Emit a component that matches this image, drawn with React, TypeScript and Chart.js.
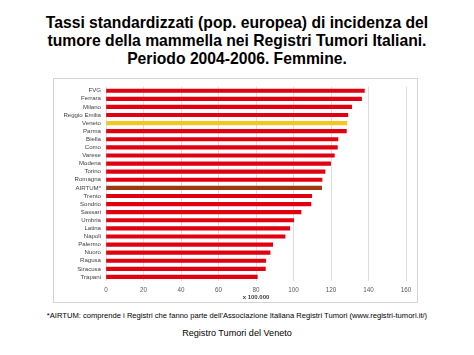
import React, { useEffect, useRef } from "react";
import { Chart, registerables } from "chart.js";

Chart.register(...registerables);

const registries = [
  "FVG", "Ferrara", "Milano", "Reggio Emilia", "Veneto", "Parma", "Biella", "Como",
  "Varese", "Modena", "Torino", "Romagna", "AIRTUM*", "Trento", "Sondrio", "Sassari",
  "Umbria", "Latina", "Napoli", "Palermo", "Nuoro", "Ragusa", "Siracusa", "Trapani",
];
const rates = [
  137.8, 136.3, 131.0, 129.0, 128.4, 128.2, 123.7, 123.4,
  121.8, 119.8, 116.8, 115.2, 115.0, 109.7, 109.3, 104.0,
  100.1, 98.0, 95.5, 88.9, 87.5, 85.2, 85.0, 80.7,
];
const xTicks = [0, 20, 40, 60, 80, 100, 120, 140, 160];
const titleLines = [
  "Tassi standardizzati (pop. europea) di incidenza del",
  "tumore della mammella nei Registri Tumori Italiani.",
  "Periodo 2004-2006. Femmine.",
];
const axisTitle = "x 100.000";
const footnote =
  "*AIRTUM: comprende i Registri che fanno parte dell'Associazione Italiana Registri Tumori (www.registri-tumori.it/)";
const source = "Registro Tumori del Veneto";

const RED = "#e0000f";
const YELLOW = "#f5c623";
const BROWN = "#9c3a14";

export default function App() {
  const ref = useRef<HTMLCanvasElement | null>(null);

  useEffect(() => {
    if (!ref.current) return;
    const colors = registries.map((r) =>
      r === "Veneto" ? YELLOW : r === "AIRTUM*" ? BROWN : RED
    );
    const chart = new Chart(ref.current, {
      type: "bar",
      data: {
        labels: registries,
        datasets: [
          {
            data: rates,
            backgroundColor: colors,
            borderWidth: 0,
            barThickness: 3.5,
          },
        ],
      },
      options: {
        indexAxis: "y",
        animation: false,
        responsive: false,
        devicePixelRatio: 1,
        layout: { padding: { top: 5, right: 12, bottom: 0, left: 0 } },
        plugins: { legend: { display: false }, tooltip: { enabled: false } },
        scales: {
          x: {
            min: 0,
            max: 160,
            afterBuildTicks: (s: any) => {
              s.ticks = xTicks.map((v) => ({ value: v }));
            },
            afterFit: (s: any) => {
              s.height = 22;
            },
            grid: { color: "#dedede", lineWidth: 1, drawTicks: false },
            border: { display: false },
            ticks: {
              padding: 5,
              color: "#595959",
              font: { family: "Liberation Sans", size: 6.3 },
            },
            title: {
              display: true,
              text: axisTitle,
              color: "#404040",
              font: { family: "Liberation Sans", size: 6, weight: "bold" },
              padding: { top: 0, bottom: 2 },
            },
          },
          y: {
            afterFit: (s: any) => {
              s.width = 53;
            },
            grid: { display: false, drawTicks: false },
            border: { display: false },
            ticks: {
              padding: 5,
              color: "#404040",
              autoSkip: false,
              font: { family: "Liberation Sans", size: 6.1 },
            },
          },
        },
      },
    });
    return () => chart.destroy();
  }, []);

  return (
    <div
      style={{
        position: "fixed",
        left: 0,
        top: 0,
        width: 474,
        height: 355,
        background: "#fff",
        fontFamily: "'Liberation Sans', Arial, sans-serif",
      }}
    >
      <div
        style={{
          position: "absolute",
          top: 14,
          left: 0,
          width: 474,
          textAlign: "center",
          fontWeight: "bold",
          fontSize: 15.7,
          lineHeight: "18px",
          color: "#000",
        }}
      >
        {titleLines.map((l, i) => (
          <div key={i}>{l}</div>
        ))}
      </div>
      <div
        style={{
          position: "absolute",
          left: 53,
          top: 78,
          width: 365,
          height: 225,
          boxSizing: "border-box",
          border: "1px solid #d4d4d4",
        }}
      />
      <canvas
        ref={ref}
        width={365}
        height={225}
        style={{ position: "absolute", left: 53, top: 78, width: 365, height: 225 }}
      />
      <div
        style={{
          position: "absolute",
          top: 311,
          left: 0,
          width: 474,
          textAlign: "center",
          fontSize: 7.6,
          lineHeight: "10px",
          color: "#000",
          whiteSpace: "nowrap",
        }}
      >
        {footnote}
      </div>
      <div
        style={{
          position: "absolute",
          top: 327,
          left: 0,
          width: 474,
          textAlign: "center",
          fontSize: 9.1,
          lineHeight: "12px",
          color: "#000",
        }}
      >
        {source}
      </div>
    </div>
  );
}
